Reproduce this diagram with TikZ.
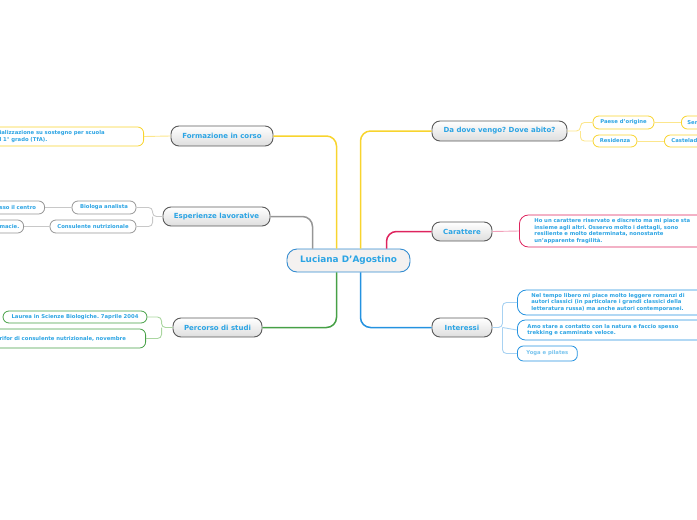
\documentclass[tikz,border=0pt]{standalone}
\usepackage{fontspec}
\setmainfont{DejaVu Sans}
\usetikzlibrary{positioning}
\frenchspacing

\definecolor{txtblue}{RGB}{43,164,228}
\definecolor{txtlight}{RGB}{120,196,238}
\definecolor{rootline}{RGB}{52,140,208}
\definecolor{rootfill}{RGB}{244,241,240}
\definecolor{topicline}{RGB}{90,90,90}
\definecolor{ylw}{RGB}{248,212,46}
\definecolor{ylwlight}{RGB}{252,230,140}
\definecolor{gry}{RGB}{150,150,150}
\definecolor{grylight}{RGB}{200,200,200}
\definecolor{grn}{RGB}{70,160,70}
\definecolor{grnlight}{RGB}{170,214,160}
\definecolor{pnk}{RGB}{222,36,94}
\definecolor{pnklight}{RGB}{242,160,186}
\definecolor{blu}{RGB}{36,146,224}
\definecolor{blulight}{RGB}{168,210,242}

\newcommand{\leaffont}{\fontsize{5.3}{6.8}\selectfont\bfseries}
\newcommand{\topicfont}{\fontsize{7}{8}\selectfont\bfseries}
\newcommand{\rootfont}{\fontsize{8.9}{10}\selectfont\bfseries}

\tikzset{
  root/.style={draw=rootline, line width=0.9pt, fill=rootfill, rounded corners=10pt,
    text=txtblue, font=\rootfont, inner sep=1pt},
  topic/.style={draw=topicline, line width=0.9pt, rounded corners=8pt,
    top color=white, bottom color=black!13, text=txtblue, font=\topicfont, inner sep=1pt},
  leaf/.style={draw=#1, line width=0.8pt, fill=white, rounded corners=6pt,
    text=txtblue, font=\leaffont, inner ysep=1pt, align=left},
  mainlink/.style={draw=#1, line width=1.5pt, rounded corners=10pt},
  sublink/.style={draw=#1, line width=0.9pt, rounded corners=4pt}
}

\begin{document}
\begin{tikzpicture}[x=1pt,y=-1pt]
  \useasboundingbox (0,0) rectangle (697,520);

  % nodo centrale
  \node[root, minimum width=123pt, minimum height=23pt] (lucia) at (348.5,260.5) {Luciana D'Agostino};

  % rami a sinistra
  \node[topic, minimum width=102pt, minimum height=20pt] (form) at (222,136) {Formazione in corso};
  \node[topic, minimum width=107pt, minimum height=19pt] (esp) at (216.5,216.5) {Esperienze lavorative};
  \node[topic, minimum width=89pt, minimum height=19pt] (perc) at (217.5,327.5) {Percorso di studi};

  % rami a destra
  \node[topic, minimum width=135pt, minimum height=20pt] (dove) at (499.5,131) {Da dove vengo? Dove abito?};
  \node[topic, minimum width=60pt, minimum height=19pt] (car) at (462,231.5) {Carattere};
  \node[topic, minimum width=60pt, minimum height=19pt] (inter) at (462,327.5) {Interessi};

  % collegamenti al centro
  \draw[mainlink=ylw] (form.east) -| ([xshift=-12pt]lucia.north);
  \draw[mainlink=gry] (esp.east) -| ([xshift=-36pt]lucia.north);
  \draw[mainlink=grn] (perc.east) -| ([xshift=-12pt]lucia.south);
  \draw[mainlink=ylw] (dove.west) -| ([xshift=12pt]lucia.north);
  \draw[mainlink=pnk] (car.west) -| ([xshift=38pt]lucia.north);
  \draw[mainlink=blu] (inter.west) -| ([xshift=12pt]lucia.south);

  % Formazione in corso
  \node[leaf=ylw, anchor=east, text width=136pt, inner xsep=8pt, minimum height=19pt] (tfa) at (144,136.5)
    {ializzazione su sostegno per scuola\\l 1° grado (TfA).};
  \draw[sublink=ylwlight] (form.west) -- (tfa.east);

  % Esperienze lavorative
  \node[leaf=gry, minimum width=64pt, minimum height=13pt] (bio) at (104,207.5) {Biologa analista};
  \node[leaf=gry, minimum width=86pt, minimum height=13pt] (cons) at (93,226.5) {Consulente nutrizionale};
  \node[leaf=gry, anchor=east, text width=39pt, inner xsep=6pt, minimum height=13pt] (centro) at (45,207.5) {sso il centro};
  \node[leaf=gry, anchor=east, text width=16pt, inner xsep=8pt, minimum height=13pt] (farm) at (24,226.5) {macie.};
  \coordinate (espfork) at ([xshift=-10pt]esp.west);
  \draw[sublink=grylight] (esp.west) -- (espfork) |- (bio.east);
  \draw[sublink=grylight] (espfork) |- (cons.east);
  \draw[sublink=grylight] (bio.west) -- (centro.east);
  \draw[sublink=grylight] (cons.west) -- (farm.east);

  % Percorso di studi
  \node[leaf=grn, minimum width=144pt, minimum height=12pt] (laurea) at (75,317) {Laurea in Scienze Biologiche. 7aprile 2004};
  \node[leaf=grn, anchor=east, text width=138pt, inner xsep=8pt, minimum height=19pt] (nutri) at (146,338.5)
    {rifor di consulente nutrizionale, novembre};
  \coordinate (percfork) at ([xshift=-11pt]perc.west);
  \draw[sublink=grnlight] (perc.west) -- (percfork) |- (laurea.east);
  \draw[sublink=grnlight] (percfork) |- (nutri.east);

  % Da dove vengo? Dove abito?
  \node[leaf=ylw, minimum width=61pt, minimum height=13pt] (paese) at (623.5,122.5) {Paese d'origine};
  \node[leaf=ylw, minimum width=44pt, minimum height=12pt] (res) at (615,141) {Residenza};
  \node[leaf=ylw, anchor=west, text width=40pt, inner xsep=6pt, minimum height=13pt] (ser) at (681,122.5) {Ser};
  \node[leaf=ylw, anchor=west, text width=50pt, inner xsep=7pt, minimum height=12pt] (castel) at (664,141) {Castelad};
  \coordinate (dovefork) at ([xshift=13pt]dove.east);
  \draw[sublink=ylwlight] (dove.east) -- (dovefork) |- (paese.west);
  \draw[sublink=ylwlight] (dovefork) |- (res.west);
  \draw[sublink=ylwlight] (paese.east) -- (ser.west);
  \draw[sublink=ylwlight] (res.east) -- (castel.west);

  % Carattere
  \node[leaf=pnk, anchor=west, text width=200pt, inner xsep=15pt, minimum height=32pt, rounded corners=9pt] (cardesc) at (519,231)
    {Ho un carattere riservato e discreto ma mi piace sta\\insieme agli altri. Osservo molto i dettagli, sono\\resiliente e molto determinata, nonostante\\un'apparente fragilità.};
  \draw[sublink=pnklight] (car.east) -- (cardesc.west);

  % Interessi
  \node[leaf=blu, anchor=west, text width=200pt, inner xsep=14pt, minimum height=25pt, rounded corners=9pt] (lettura) at (517,302.5)
    {Nel tempo libero mi piace molto leggere romanzi di\\autori classici (in particolare i grandi classici della\\letteratura russa) ma anche autori contemporanei.};
  \node[leaf=blu, anchor=west, text width=200pt, inner xsep=10pt, minimum height=20pt, rounded corners=8pt] (natura) at (517,330)
    {Amo stare a contatto con la natura e faccio spesso\\trekking e camminate veloce.};
  \node[leaf=blu, anchor=west, inner xsep=9pt, minimum height=15pt, text=txtlight] (yoga) at (517,353.5) {Yoga e pilates};
  \coordinate (interfork) at ([xshift=10pt]inter.east);
  \draw[sublink=blulight] (inter.east) -- (interfork) |- (lettura.west);
  \draw[sublink=blulight] (interfork) -- (natura.west);
  \draw[sublink=blulight] (interfork) |- (yoga.west);
\end{tikzpicture}
\end{document}
